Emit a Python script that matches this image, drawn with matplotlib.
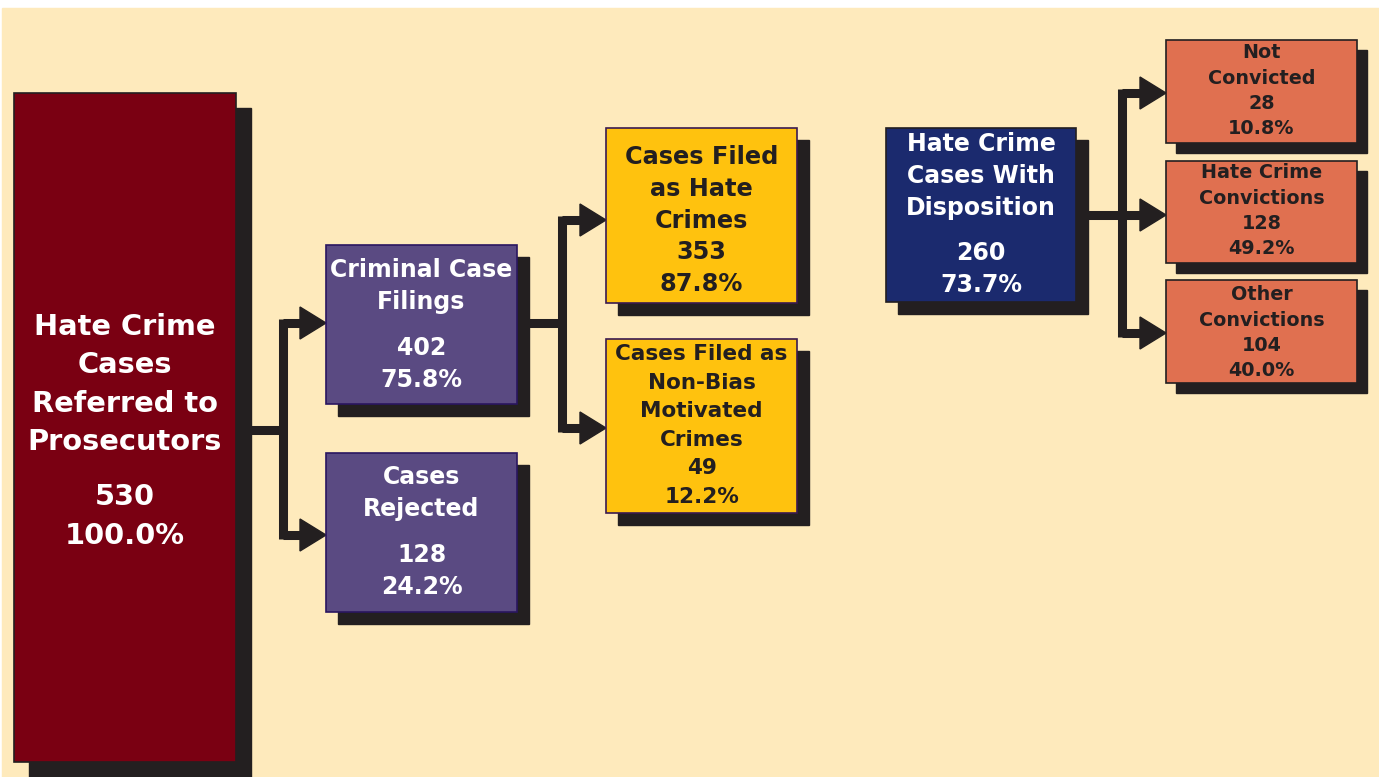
import matplotlib.pyplot as plt
from matplotlib.patches import Rectangle, Polygon

plt.rcParams['font.family'] = ['DejaVu Sans']

# data
main_label = ["Hate Crime", "Cases", "Referred to", "Prosecutors"]
main_count, main_pct = 530, 100.0
stage1_labels = [["Criminal Case", "Filings"], ["Cases", "Rejected"]]
stage1_counts = [402, 128]
stage1_pcts = [75.8, 24.2]
stage2_labels = [["Cases Filed", "as Hate", "Crimes"], ["Cases Filed as", "Non-Bias", "Motivated", "Crimes"]]
stage2_counts = [353, 49]
stage2_pcts = [87.8, 12.2]
disp_label = ["Hate Crime", "Cases With", "Disposition"]
disp_count, disp_pct = 260, 73.7
outcome_labels = [["Not", "Convicted"], ["Hate Crime", "Convictions"], ["Other", "Convictions"]]
outcome_counts = [28, 128, 104]
outcome_pcts = [10.8, 49.2, 40.0]

BG = '#FEEABC'
SHADOW = '#231F20'

fig = plt.figure(figsize=(13.79, 7.77), dpi=100)
ax = fig.add_axes([0, 0, 1, 1])
ax.set_xlim(0, 1379)
ax.set_ylim(777, 0)
ax.axis('off')

ax.add_patch(Rectangle((2, 8), 1377, 769, color=BG, zorder=0))


def box(x0, y0, x1, y1, color, lines, y_first, step, gap, size, tcolor, off, edge=SHADOW):
    ax.add_patch(Rectangle((x0 + off, y0 + off), x1 - x0, y1 - y0, color=SHADOW, zorder=2))
    ax.add_patch(Rectangle((x0, y0), x1 - x0, y1 - y0, facecolor=color, edgecolor=edge, lw=1.2, zorder=3))
    cx = (x0 + x1) / 2
    y = y_first
    for line in lines:
        if line is None:
            y += gap
            continue
        ax.text(cx, y + 1, line, ha='center', va='center', fontsize=size, fontweight='bold',
                color=tcolor, zorder=4)
        y += step


def connector(x_from, y_from, x_vert, ys, x_tip):
    kw = dict(color=SHADOW, lw=6.5, solid_capstyle='butt', zorder=1)
    ax.plot([x_from, x_vert], [y_from, y_from], **kw)
    ax.plot([x_vert, x_vert], [min(ys) - 4, max(ys) + 4], **kw)
    for y in ys:
        ax.plot([x_vert, x_tip - 24], [y, y], **kw)
        ax.add_patch(Polygon([(x_tip - 26, y - 16), (x_tip, y), (x_tip - 26, y + 16)],
                             closed=True, color=SHADOW, zorder=1))


# main box
box(14, 93, 236, 762, '#7A0012',
    main_label + [None, str(main_count), f"{main_pct:.1f}%"],
    326, 38.3, 17, 20.8, 'white', 15)

# stage 1 (purple)
connector(236, 430, 283, [323, 535], 326)
s1_y = [(245, 404, 269), (453, 612, 476)]
for (y0, y1, yf), lab, c, p in zip(s1_y, stage1_labels, stage1_counts, stage1_pcts):
    box(326, y0, 517, y1, '#5A4A82', lab + [None, str(c), f"{p:.1f}%"],
        yf, 32, 14, 17, 'white', 12, edge='#2A1660')

# stage 2 (yellow)
connector(517, 323, 562, [220, 428], 606)
s2 = [(128, 303, 156, 31.8, 17.3), (339, 513, 353, 28.6, 15.5)]
for (y0, y1, yf, st, fs), lab, c, p in zip(s2, stage2_labels, stage2_counts, stage2_pcts):
    box(606, y0, 797, y1, '#FFC20E', lab + [str(c), f"{p:.1f}%"],
        yf, st, 0, fs, SHADOW, 12, edge='#3A1A50')

# disposition (navy)
box(886, 128, 1076, 302, '#1B2A6E', disp_label + [None, str(disp_count), f"{disp_pct:.1f}%"],
    143, 32, 13, 17, 'white', 12)

# outcomes (orange)
connector(1076, 215, 1122, [93, 215, 333], 1166)
o_y = [(40, 143, 52), (161, 263, 172), (280, 383, 294)]
for (y0, y1, yf), lab, c, p in zip(o_y, outcome_labels, outcome_counts, outcome_pcts):
    box(1166, y0, 1357, y1, '#E07050', lab + [str(c), f"{p:.1f}%"],
        yf, 25.3, 0, 13.8, SHADOW, 10)

fig.savefig('out.png', dpi=100)
